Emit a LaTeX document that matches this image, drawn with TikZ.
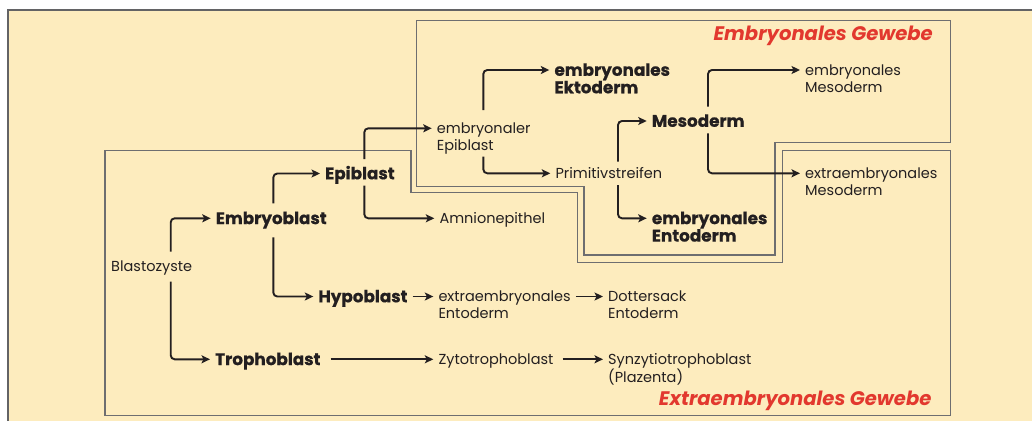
\documentclass[tikz,border=0pt]{standalone}
\usepackage{fontspec}
\setmainfont{Poppins}[BoldFeatures={FakeBold=0.6}]
\usetikzlibrary{arrows.meta}
\definecolor{cream}{RGB}{253,236,190}
\definecolor{ink}{RGB}{35,31,32}
\definecolor{boxgray}{RGB}{110,110,112}
\definecolor{redtxt}{RGB}{226,56,46}
\newcommand{\twol}[2]{\begin{tabular}[t]{@{}l@{}}#1\\#2\end{tabular}}
\tikzset{
  lbl/.style={anchor=base west, inner xsep=5pt, inner ysep=0pt, text=ink,
    font=\fontsize{14.5}{17}\selectfont},
  blbl/.style={lbl, font=\fontsize{16.8}{16.8}\selectfont\bfseries},
  redlbl/.style={anchor=base east, inner sep=0pt, text=redtxt,
    font=\fontsize{19.6}{22}\selectfont\bfseries\itshape},
  arr/.style={draw=ink, line width=1.9pt, rounded corners=4pt,
    -{Stealth[length=8.5pt,width=8pt,inset=2pt]}},
  frame/.style={draw=boxgray, line width=1.2pt},
}
\begin{document}
\begin{tikzpicture}[x=1pt,y=-1pt]
\useasboundingbox (0,0) rectangle (1032,421);
\fill[cream] (8,10) rectangle (1032,421);
\draw[draw=boxgray!90!black, line width=1.6pt] (8,421) -- (8,10) -- (1032,10);
% region frames
\draw[frame] (416.7,20.7) -- (950.5,20.7) -- (950.5,142.7) -- (775,142.7)
  -- (775,255) -- (584,255) -- (584,186.7) -- (416.7,186.7) -- cycle;
\draw[frame] (105,150.5) -- (411,150.5) -- (411,192.7) -- (577.5,192.7)
  -- (577.5,262.3) -- (782.7,262.3) -- (782.7,150.7) -- (950.5,150.7)
  -- (950.5,415.5) -- (105,415.5) -- cycle;
% labels
\node[redlbl] (rE) at (933,40.2) {Embryonales Gewebe};
\node[redlbl] (rX) at (931.6,405.9) {Extraembryonales Gewebe};
% nodes
\node[lbl]  (blasto)  at (106,271.7)   {Blastozyste};
\node[blbl] (embryo)  at (210.7,224.1) {Embryoblast};
\node[blbl] (tropho)  at (210,365.1)   {Trophoblast};
\node[blbl] (epi)     at (320,179.3)   {Epiblast};
\node[blbl] (hypo)    at (313.3,302.3) {Hypoblast};
\node[lbl]  (embepi)  at (431.7,133.3) {\twol{embryonaler}{Epiblast}};
\node[lbl]  (amnion)  at (434.3,223.3) {Amnionepithel};
\node[blbl] (ekto)    at (549.3,75.8)  {\twol{embryonales}{Ektoderm}};
\node[lbl]  (primi)   at (550.3,178.3) {Primitivstreifen};
\node[blbl] (meso)    at (646.7,126.8) {Mesoderm};
\node[blbl] (ento)    at (646.7,224.1) {\twol{embryonales}{Entoderm}};
\node[lbl]  (embmeso) at (800,75)      {\twol{embryonales}{Mesoderm}};
\node[lbl]  (exmeso)  at (800,178.3)   {\twol{extraembryonales}{Mesoderm}};
\node[lbl]  (exento)  at (433.3,301.5) {\twol{extraembryonales}{Entoderm}};
\node[lbl]  (dotter)  at (603,301.5)   {\twol{Dottersack}{Entoderm}};
\node[lbl]  (zyto)    at (433.3,364.3) {Zytotrophoblast};
\node[lbl]  (synzy)   at (603,364.3)   {\twol{Synzytiotrophoblast}{(Plazenta)}};
% connectors
\draw[arr] ([xshift=64.7pt,yshift=20pt]blasto.base west) |- ([yshift=5.8pt]embryo.base west);
\draw[arr] ([xshift=64.7pt,yshift=-10pt]blasto.base west) |- ([yshift=5.8pt]tropho.base west);
\draw[arr] ([xshift=62.6pt,yshift=20.8pt]embryo.base west) |- ([yshift=5.8pt]epi.base west);
\draw[arr] ([xshift=62.6pt,yshift=-13.2pt]embryo.base west) |- ([yshift=5.8pt]hypo.base west);
\draw[arr] ([xshift=44.3pt,yshift=20.3pt]epi.base west) |- ([yshift=5pt]embepi.base west);
\draw[arr] ([xshift=44.3pt,yshift=-6.2pt]epi.base west) |- ([yshift=5pt]amnion.base west);
\draw[arr] ([xshift=51.6pt,yshift=23.3pt]embepi.base west) |- ([yshift=5.8pt]ekto.base west);
\draw[arr] ([xshift=51.6pt,yshift=-23.4pt]embepi.base west) |- ([yshift=5pt]primi.base west);
\draw[arr] ([xshift=67.7pt,yshift=16.6pt]primi.base west) |- ([yshift=5.8pt]meso.base west);
\draw[arr] ([xshift=67.7pt,yshift=-6.7pt]primi.base west) |- ([yshift=5.8pt]ento.base west);
\draw[arr] ([xshift=61.3pt,yshift=20.1pt]meso.base west) |- ([yshift=5pt]embmeso.base west);
\draw[arr] ([xshift=61.3pt,yshift=-6.5pt]meso.base west) |- ([yshift=5pt]exmeso.base west);
\draw[arr] ([yshift=5.8pt]hypo.base east) -- ([yshift=5pt]exento.base west);
\draw[arr] ([yshift=5pt]exento.base east) -- ([yshift=5pt]dotter.base west);
\draw[arr, shorten <=5pt] ([yshift=5.8pt]tropho.base east) -- ([yshift=5pt]zyto.base west);
\draw[arr, shorten <=4pt] ([yshift=5pt]zyto.base east) -- ([yshift=5pt]synzy.base west);
\end{tikzpicture}
\end{document}
